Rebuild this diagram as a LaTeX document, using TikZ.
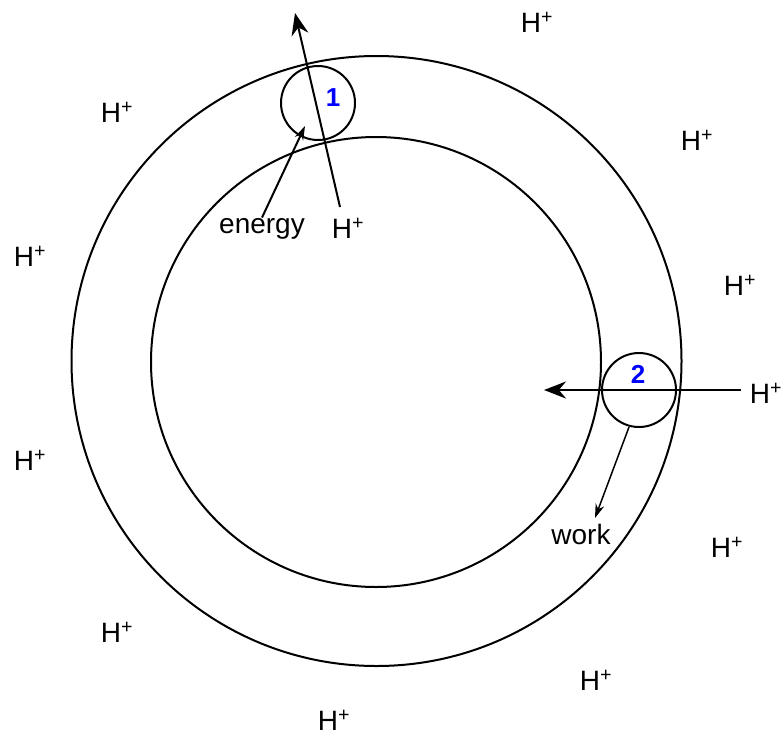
\documentclass[tikz,border=0pt]{standalone}
\usepackage{fontspec}
\setmainfont{Liberation Sans}
\usetikzlibrary{arrows.meta,positioning}

\begin{document}
\begin{tikzpicture}[x=1pt, y=-1pt, >=Stealth, line width=2pt,
		ion/.style={font=\fontsize{28}{28}\selectfont, inner sep=0pt},
		pump/.style={draw, circle, minimum size=74pt, inner sep=0pt},
		num/.style={font=\fontsize{26}{26}\selectfont\bfseries, text=blue, inner sep=0pt},
		big/.style={-{Stealth[length=22pt,width=17pt]}},
		small/.style={-{Stealth[length=14pt,width=9pt]}}]
			\useasboundingbox (0,0) rectangle (784,737);
			\draw (376.5,361) circle (305);
			\draw (376,362) circle (225);

			\node[pump] (p1) at (318,103) {};
			\node[pump] (p2) at (639,390) {};
			\node[num] (n1) at (333,98) {1};
			\node[num] (n2) at (638,374) {2};

			\node[ion] (h1) at (537,22) {H\textsuperscript{+}};
			\node[ion] (h2) at (117,112) {H\textsuperscript{+}};
			\node[ion] (h3) at (697,140) {H\textsuperscript{+}};
			\node[ion] (h4) at (30,256) {H\textsuperscript{+}};
			\node[ion] (hup) at (348,228) {H\textsuperscript{+}};
			\node[ion] (h5) at (740,285) {H\textsuperscript{+}};
			\node[ion] (hin) at (766,393) {H\textsuperscript{+}};
			\node[ion] (h6) at (30,460) {H\textsuperscript{+}};
			\node[ion] (h7) at (727,547) {H\textsuperscript{+}};
			\node[ion] (h8) at (117,632) {H\textsuperscript{+}};
			\node[ion] (h9) at (596,680) {H\textsuperscript{+}};
			\node[ion] (h10) at (334,720) {H\textsuperscript{+}};

			\node[ion] (energy) at (262,229) {energy};
			\node[ion] (work) at (581,534) {work};

			\coordinate (up0) at (340,207);
			\coordinate (up1) at (295,13);
			\coordinate (in0) at (741,390);
			\coordinate (in1) at (544,390);
			\coordinate (e1) at (305,126);
			\coordinate (w0) at (629,427);
			\coordinate (w1) at (595,518);

			\path
			(up0) edge[big] (up1)
			(in0) edge[big] (in1)
			(energy.north) edge[small] (e1)
			(w0) edge[small, line width=1.5pt] (w1);
		\end{tikzpicture}
\end{document}
